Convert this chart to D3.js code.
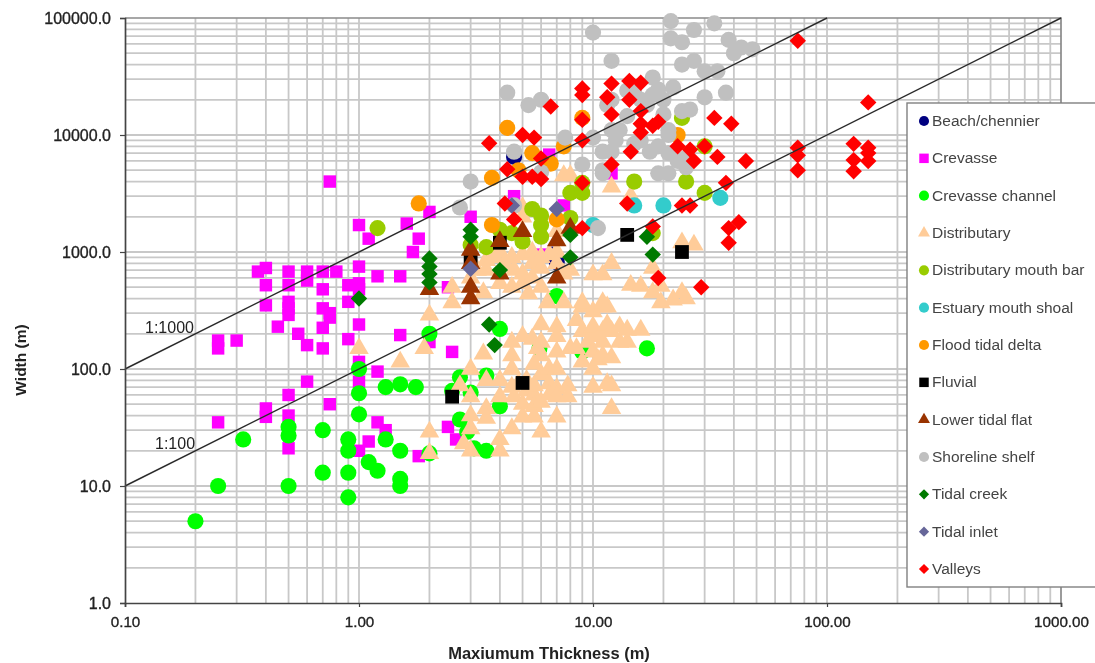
<!DOCTYPE html>
<html><head><meta charset="utf-8">
<script src="https://cdn.jsdelivr.net/npm/d3@7"></script>
<style>html,body{margin:0;padding:0;background:#fff}svg{display:block;font-family:"Liberation Sans",Arial,sans-serif;filter:blur(.6px)}</style>
</head><body><svg id="c" width="1095" height="663"></svg>
<script>
const xMajor=[0.1,1,10,100,1000];
const yMajor=[1,10,100,1000,10000,100000];
const beach=[[4.6,6500],[6.7,950],[7,820]];
const crevasse=[[0.75,4000],[1,1700],[1.1,1300],[1.6,1750],[1.8,1300],[1.7,1000],[0.4,730],[0.37,680],[0.5,680],[0.6,680],[0.7,680],[0.8,680],[1,750],[1.2,620],[1.5,620],[0.4,520],[0.5,520],[0.6,570],[0.7,480],[0.9,520],[1,540],[1,480],[0.4,350],[0.5,375],[0.5,330],[0.5,290],[0.7,330],[0.75,300],[0.75,275],[0.9,375],[1,240],[0.45,230],[0.7,225],[0.55,200],[0.6,160],[0.7,150],[0.9,180],[1.5,195],[0.25,175],[0.25,150],[0.3,175],[1,115],[1.2,95],[1,78],[0.6,78],[0.5,60],[0.4,46],[0.4,39],[0.5,40],[0.75,50],[0.25,35],[0.5,21],[1.2,35],[1.3,30],[1.1,24],[1,20],[1.8,18],[2.5,140],[2.4,32],[2.6,25],[2,170],[2,2200],[2.4,500],[3,2000],[4.6,3000],[7.5,2500],[6,950],[6.5,6800],[12,4700]];
const crevasseChannel=[[0.2,5],[0.25,10],[0.32,25],[0.5,32],[0.5,27],[0.5,10],[0.7,30],[0.7,13],[0.9,25],[0.9,20],[0.9,13],[0.9,8],[1,100],[1,62],[1,41],[1.1,16],[1.2,13.5],[1.3,25],[1.3,70],[1.5,74],[1.75,70],[1.5,20],[1.5,11.5],[1.5,10],[2,200],[2.7,85],[2.5,65],[3.5,88],[4,220],[2.7,37],[2.9,29],[3.1,21],[3.5,20],[2,19],[17,150],[5.9,150],[9,140],[3,63],[4,48],[7,420]];
const distributary=[[1,150],[1.5,115],[1.9,150],[2,290],[2,29],[2,19],[2.5,370],[2.5,500],[2.7,72],[2.8,23],[3,100],[3,58],[3,40],[3,31],[3,20],[3,600],[3.2,700],[3.4,135],[3.4,450],[3.5,850],[3.5,700],[3.5,80],[3.5,46],[3.5,38],[3.8,900],[4,80],[4,58],[4,25],[4,20],[4,540],[4,1000],[4.2,800],[4.5,170],[4.5,130],[4.5,100],[4.5,500],[4.5,31],[4.5,900],[4.5,70],[4.6,58],[4.6,700],[4.8,75],[5,190],[5,50],[5,39],[5,540],[5,950],[5,2400],[5,2000],[5,650],[5.2,80],[5.2,65],[5.3,440],[5.5,1000],[5.5,800],[5.5,600],[5.5,180],[5.6,110],[5.6,60],[5.6,72],[5.6,48],[5.6,39],[5.8,150],[6,240],[6,170],[6,130],[6,29],[6,730],[6,900],[6,500],[6,90],[6,52],[6.4,370],[6.5,950],[6.5,100],[6.5,75],[6.5,60],[7,230],[7,190],[7,140],[7,100],[7,68],[7,58],[7,39],[7,1000],[7,800],[7,1500],[7.5,370],[7.5,650],[7.5,4500],[7.8,72],[7.8,58],[8,150],[8,700],[8,4500],[8.5,150],[8.5,260],[9,115],[9,340],[9,370],[9,210],[9.5,170],[10,100],[10,140],[10,190],[10,230],[10,310],[10,70],[10,640],[10.5,120],[11,340],[11,170],[11,370],[11,640],[11,210],[11,130],[11.5,340],[11.5,240],[11.5,75],[12,125],[12,72],[12,46],[12,800],[12,3600],[12,210],[13,230],[13,170],[14,215],[14,170],[14.5,520],[14.5,3000],[16,215],[16,510],[18,730],[18,450],[19.5,510],[19.5,370],[22,390],[24,450],[25,400],[24,1200],[27,1150]];
const mouthBar=[[15,4000],[25,4000],[1.2,1600],[3.5,1100],[4,1550],[4.5,1450],[5,1230],[5.5,2330],[6,2050],[6,1700],[6,1350],[8,3200],[9,3200],[8,1950],[3,1150],[24,14000],[30,3200],[9,3900],[30,8000],[18,1450]];
const estuaryShoal=[[15,2500],[20,2500],[10,1700],[35,2900]];
const floodDelta=[[1.8,2600],[3.7,4300],[3.7,1700],[7,1900],[4.3,11500],[5.5,7000],[6.6,5700],[4.8,5000],[9,14000],[23,10000],[7.5,8000]];
const fluvial=[[24,1000],[14,1400],[5,76],[2.5,58],[4,1200],[3,850]];
const lowerTidalFlat=[[2,480],[3,1040],[4,1230],[5,1500],[7,1250],[7,600],[3,500],[3,400],[3,800],[4,650],[8,1600]];
const shorelineShelf=[[21.5,94000],[33,90000],[27,79000],[10,75000],[21.5,67000],[24,62000],[38,65000],[40,50000],[43,56000],[48,54000],[12,43000],[24,40000],[27,43000],[30,35000],[34,35000],[18,31000],[4.3,23000],[6,20000],[5.3,18000],[19,24500],[22,25500],[18,22000],[30,21000],[37,23000],[24,16000],[26,16500],[21,11000],[21,10000],[10,9500],[7.6,9500],[4.6,7200],[11,7200],[12,7200],[17.5,7200],[21,7000],[25,6400],[9,5600],[11,5000],[19,4700],[21,4700],[25,5300],[6,4800],[3,4000],[12,20000],[11.5,18000],[14,24000],[14,14500],[12,11000],[13,11000],[15,23000],[15,8400],[2.7,2400],[10.5,1600],[4.6,2500],[11,4700],[16,20000],[17,18000],[20,20000],[20,15000],[16,9000],[19,8000],[23,6000],[12.5,9000]];
const tidalCreek=[[3,1550],[3,1350],[2,880],[2,750],[2,650],[2,550],[4,700],[8,1400],[8,900],[17,1350],[18,950],[3.6,240],[3.8,160],[1,400]];
const tidalInlet=[[3,720],[7,2330],[4.5,2500]];
const valleys=[[75,64000],[150,19000],[75,7800],[75,6700],[75,5000],[130,8400],[130,6100],[130,4900],[150,7800],[150,7000],[150,6000],[33,14000],[39,12500],[30,8000],[34,6500],[45,6000],[37,3900],[42,1800],[38,1600],[38,1200],[29,500],[14.3,29000],[16,28000],[12,27500],[9,25000],[9,22000],[11.5,21000],[14.3,20000],[6.6,17500],[12,15000],[16,16000],[9,13500],[16,12500],[16,10500],[19,13000],[18,12000],[9,9000],[5,10000],[5.6,9500],[3.6,8500],[14.5,7200],[23,8000],[26,7500],[27,6000],[6,6300],[12,5600],[4.3,5100],[5,4400],[5.5,4400],[6,4200],[9,3900],[4.2,2600],[4.6,1900],[9,1600],[14,2600],[24,2500],[26,2500],[18,1650],[19,600]];
const seriesNames=["Beach/chennier","Crevasse","Crevasse channel","Distributary","Distributary mouth bar","Estuary mouth shoal","Flood tidal delta","Fluvial","Lower tidal flat","Shoreline shelf","Tidal creek","Tidal inlet","Valleys"];
const seriesData=[beach,crevasse,crevasseChannel,distributary,mouthBar,estuaryShoal,floodDelta,fluvial,lowerTidalFlat,shorelineShelf,tidalCreek,tidalInlet,valleys];
const seriesColors=["#000080","#FF00FF","#00FF00","#FFCC99","#99CC00","#33CCCC","#FF9900","#000000","#993300","#C0C0C0","#007A00","#666699","#FF0000"];
const seriesShapes=["circle","square","circle","triangle","circle","circle","circle","fluvial","triangle","circle","diamond","diamond","diamond"];
const refLines=[{ratio:1000,label:"1:1000"},{ratio:100,label:"1:100"}];

const L=125,R=1061,T=18,B=603;
const x=d3.scaleLog().domain([0.1,1000]).range([L,R]);
const y=d3.scaleLog().domain([1,100000]).range([B,T]);
const svg=d3.select("#c");
const minors=m=>m.slice(0,-1).flatMap(v=>d3.range(2,10).map(k=>v*k));
const grid=svg.append("g").attr("stroke","#c8c8c8").attr("stroke-width",1.8);
grid.selectAll(".gx").data(minors(xMajor).concat(xMajor.slice(1,-1))).join("line").attr("x1",d=>x(d)).attr("x2",d=>x(d)).attr("y1",T).attr("y2",B);
grid.selectAll(".gy").data(minors(yMajor).concat(yMajor.slice(1,-1))).join("line").attr("y1",d=>y(d)).attr("y2",d=>y(d)).attr("x1",L).attr("x2",R);
svg.append("path").attr("d",`M${L},${T}H${R}V${B}`).attr("fill","none").attr("stroke","#8a8a8a").attr("stroke-width",1.7);

const shapePath={circle:[d3.symbolCircle,205],square:[d3.symbolSquare,155],triangle:[d3.symbolTriangle,165],diamond:[d3.symbolSquare,135],fluvial:[d3.symbolSquare,190]};
const legendPath={circle:[d3.symbolCircle,80],square:[d3.symbolSquare,90],triangle:[d3.symbolTriangle,62],diamond:[d3.symbolSquare,52],fluvial:[d3.symbolSquare,90]};
function mark(sel,shape,table){
  const [t,s]=table[shape];
  sel.attr("d",d3.symbol(t,s)());
}
seriesData.forEach((data,i)=>{
  const shape=seriesShapes[i];
  svg.append("g").selectAll("path").data(data).join("path")
    .call(mark,shape,shapePath)
    .attr("fill",seriesColors[i])
    .attr("transform",d=>`translate(${x(d[0])},${y(d[1])})`+(shape==="diamond"?" rotate(45)":""));
});
refLines.forEach(r=>{
  const x0=0.1,x1=100000/r.ratio;
  svg.append("line").attr("x1",x(x0)).attr("y1",y(x0*r.ratio)).attr("x2",x(x1)).attr("y2",y(x1*r.ratio)).attr("stroke","#2b2b2b").attr("stroke-width",1.5);
});
svg.append("text").text(refLines[0].label).attr("x",145).attr("y",333).attr("font-size",16).attr("fill","#222");
svg.append("text").text(refLines[1].label).attr("x",155).attr("y",449).attr("font-size",16).attr("fill","#222");

const ax=svg.append("g").attr("transform",`translate(0,${B})`).call(d3.axisBottom(x).tickValues(xMajor).tickFormat(d=>d.toFixed(2)).tickSize(4).tickPadding(9));
const ay=svg.append("g").attr("transform",`translate(${L},0)`).call(d3.axisLeft(y).tickValues(yMajor).tickFormat(d=>d.toFixed(1)).tickSize(5).tickPadding(9));
[ax,ay].forEach(a=>{
  a.select(".domain").attr("stroke","#444").attr("stroke-width",1.7);
  a.selectAll("line").attr("stroke","#444").attr("stroke-width",1.2);
  a.selectAll("text").attr("font-family",'"Liberation Sans",Arial,sans-serif').attr("fill","#222").attr("stroke","#222").attr("stroke-width",0.35);
});
ax.selectAll("text").attr("font-size",15.2);
ay.selectAll("text").attr("font-size",16);
svg.append("text").text("Width (m)").attr("transform","translate(26,360) rotate(-90)").attr("text-anchor","middle").attr("font-size",15.5).attr("font-weight",700).attr("fill","#222");
svg.append("text").text("Maxiumum Thickness (m)").attr("x",549).attr("y",658.5).attr("text-anchor","middle").attr("font-size",16.5).attr("font-weight",700).attr("fill","#222");

svg.append("rect").attr("x",907).attr("y",103).attr("width",200).attr("height",484).attr("fill","#fff").attr("stroke","#808080").attr("stroke-width",1.4);
const ly=d3.scaleLinear().domain([0,12]).range([121,569]);
seriesNames.forEach((n,i)=>{
  const shape=seriesShapes[i];
  svg.append("path").call(mark,shape,legendPath).attr("fill",seriesColors[i])
    .attr("transform",`translate(924,${ly(i)})`+(shape==="diamond"?" rotate(45)":""));
  svg.append("text").text(n).attr("x",932).attr("y",ly(i)+5).attr("font-size",15.5).attr("fill","#444");
});
</script></body></html>
